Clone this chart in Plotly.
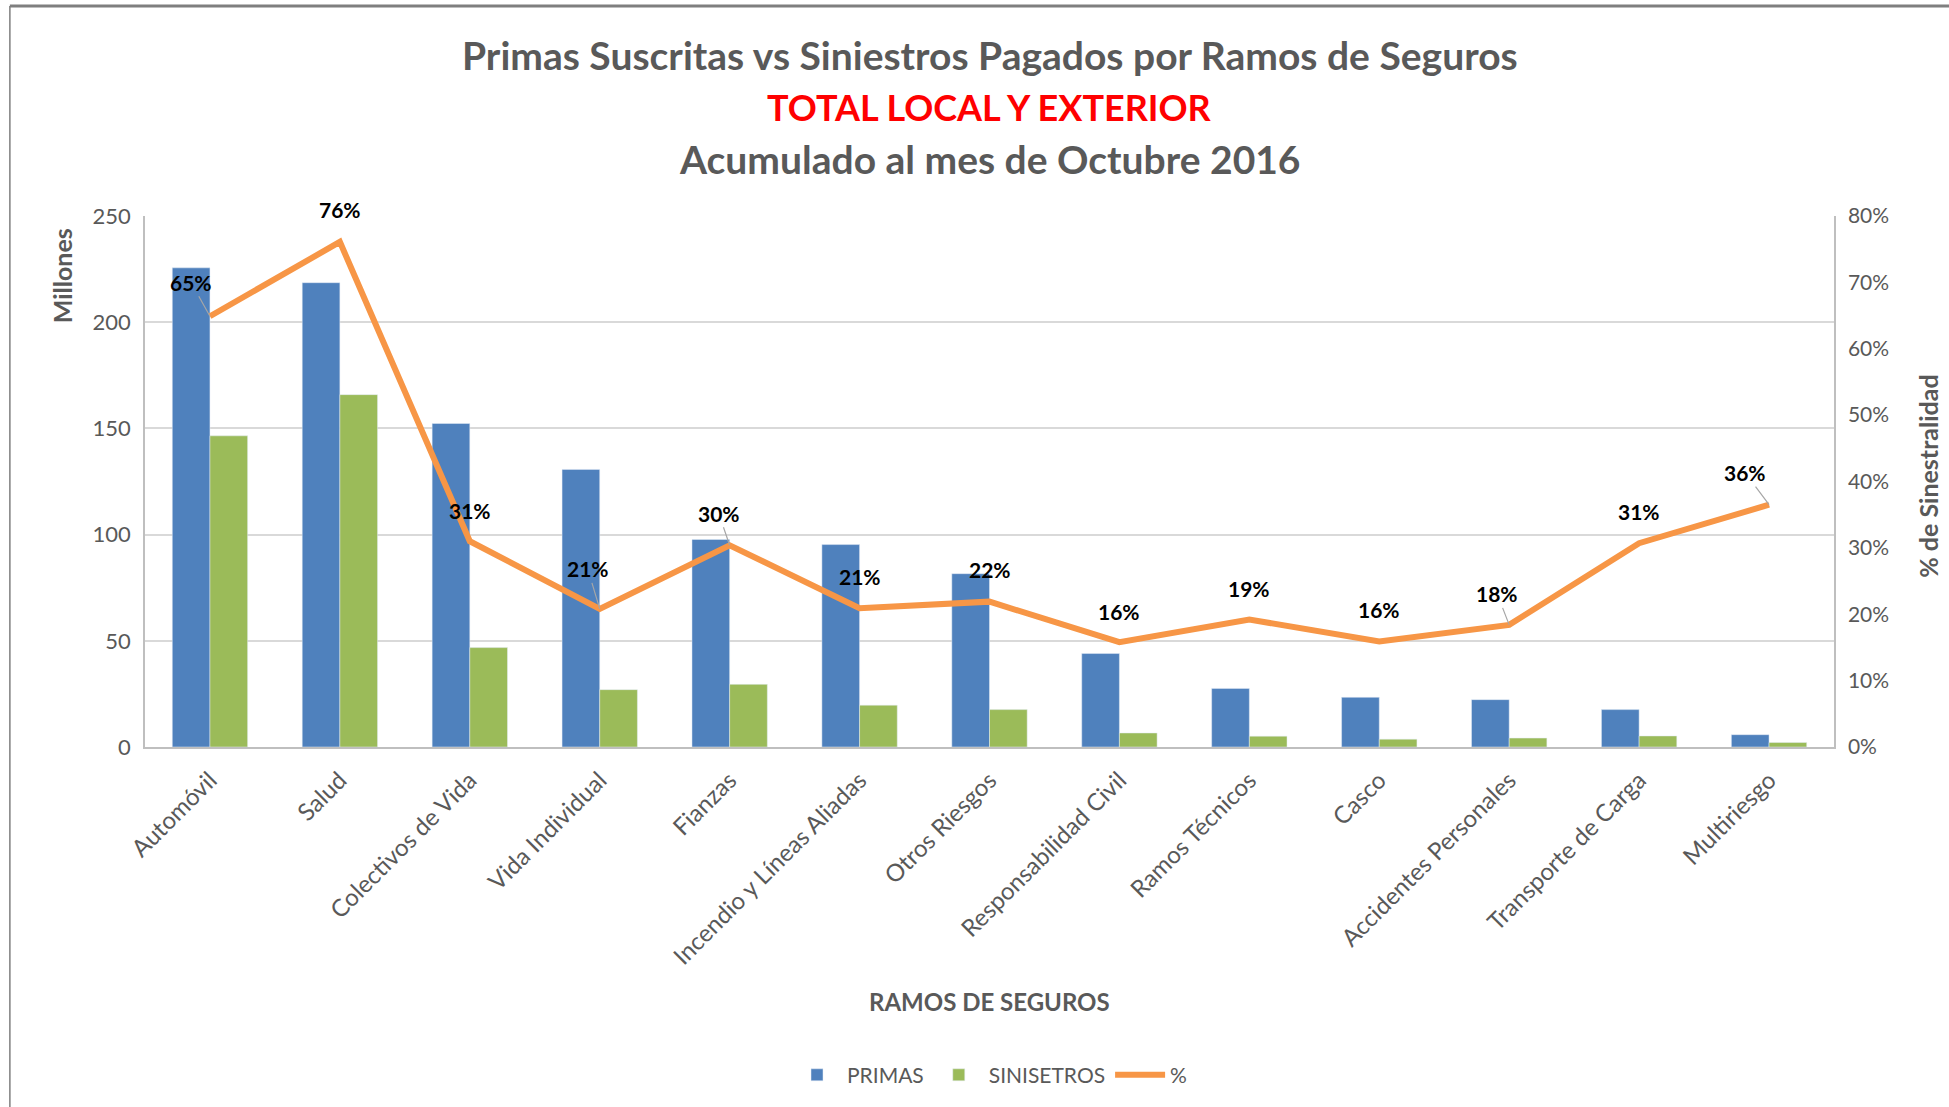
import plotly.graph_objects as go

categories = ["Automóvil", "Salud", "Colectivos de Vida", "Vida Individual", "Fianzas",
              "Incendio y Líneas Aliadas", "Otros Riesgos", "Responsabilidad Civil",
              "Ramos Técnicos", "Casco", "Accidentes Personales", "Transporte de Carga", "Multiriesgo"]
primas = [225.6, 218.6, 152.3, 130.7, 97.7, 95.3, 81.6, 44.0, 27.6, 23.4, 22.3, 17.6, 5.8]
siniestros = [146.5, 165.9, 46.8, 27.0, 29.5, 19.7, 17.6, 6.6, 5.1, 3.7, 4.2, 5.2, 2.1]
pct = [0.649, 0.761, 0.310, 0.208, 0.304, 0.209, 0.219, 0.158, 0.192, 0.159, 0.184, 0.307, 0.365]
# label offsets (px) and whether a leader line is shown
label_dx = [-19, 0, 0, -12, -11, 0, 0, 0, 0, 0, -12, 0, -24]
label_dy = [-34, -32, -31, -40, -32, -32, -32, -31, -31, -32, -31, -32, -32]
leader = [True, False, False, True, True, False, False, False, False, False, True, False, True]

FONT = "Lato"
GREY = "#595959"

fig = go.Figure()
fig.add_trace(go.Bar(x=categories, y=primas, name="PRIMAS", marker_color="#4F81BD"))
fig.add_trace(go.Bar(x=categories, y=siniestros, name="SINISETROS", marker_color="#9BBB59"))
fig.add_trace(go.Scatter(x=categories, y=pct, name="%", yaxis="y2", mode="lines",
                         line=dict(color="#F79646", width=6)))

ann = []
for c, v, dx, dy, ld in zip(categories, pct, label_dx, label_dy, leader):
    ann.append(dict(x=c, y=v, xref="x", yref="y2", text=f"<b>{round(v*100):d}%</b>",
                    showarrow=True, ax=dx, ay=dy, arrowhead=0, arrowwidth=1.2,
                    arrowcolor="#A6A6A6" if ld else "rgba(0,0,0,0)", standoff=0,
                    font=dict(family=FONT, size=21, color="black")))

titles = [("<b>Primas Suscritas vs Siniestros Pagados por Ramos de Seguros</b>", GREY, 39, 1.303),
          ("<b>TOTAL LOCAL Y EXTERIOR</b>", "#FF0000", 36, 1.205),
          ("<b>Acumulado al mes de Octubre 2016</b>", GREY, 39, 1.107)]
for t, col, sz, yy in titles:
    ann.append(dict(x=0.5, y=yy, xref="paper", yref="paper", text=t, showarrow=False,
                    xanchor="center", yanchor="middle", font=dict(family=FONT, size=sz, color=col)))

ann.append(dict(x=-0.049, y=0.887, xref="paper", yref="paper", text="<b>Millones</b>",
                showarrow=False, textangle=-90, xanchor="center", yanchor="middle",
                font=dict(family=FONT, size=25, color=GREY)))
ann.append(dict(x=1.056, y=0.51, xref="paper", yref="paper", text="<b>% de Sinestralidad</b>",
                showarrow=False, textangle=-90, xanchor="center", yanchor="middle",
                font=dict(family=FONT, size=25, color=GREY)))
ann.append(dict(x=0.5, y=-0.48, xref="paper", yref="paper", text="<b>RAMOS DE SEGUROS</b>",
                showarrow=False, xanchor="center", yanchor="middle",
                font=dict(family=FONT, size=24, color=GREY)))

fig.update_layout(
    width=1949, height=1107,
    margin=dict(l=145, r=115, t=216, b=360),
    paper_bgcolor="white", plot_bgcolor="white",
    barmode="group", bargap=0.42, bargroupgap=0,
    font=dict(family=FONT, color=GREY),
    showlegend=True,
    legend=dict(orientation="h", x=0.5, xanchor="center", y=-0.618, yanchor="middle",
                itemwidth=50, font=dict(family=FONT, size=21, color=GREY)),
    xaxis=dict(tickangle=-45, tickfont=dict(family=FONT, size=24, color=GREY),
               showline=True, linecolor="#BFBFBF", linewidth=1.5,
               ticks="outside", ticklen=8, tickcolor="rgba(0,0,0,0)"),
    yaxis=dict(range=[0, 250], dtick=50, showgrid=True, gridcolor="#D9D9D9", gridwidth=1.5,
               tickfont=dict(family=FONT, size=22, color=GREY), showline=True,
               linecolor="#BFBFBF", linewidth=1.5, zeroline=False, ticklen=8, ticks="outside",
               tickcolor="rgba(0,0,0,0)"),
    yaxis2=dict(range=[0, 0.8], dtick=0.1, tickformat=".0%", overlaying="y", side="right",
                showgrid=False, zeroline=False, showline=True, linecolor="#BFBFBF", linewidth=1.5,
                tickfont=dict(family=FONT, size=21, color=GREY), ticks="outside", ticklen=8,
                tickcolor="rgba(0,0,0,0)"),
    annotations=ann,
    shapes=[
        dict(type="line", xref="paper", yref="paper", x0=-0.080, x1=-0.080, y0=1.3955, y1=-0.70,
             line=dict(color="#7F7F7F", width=1.5)),
        dict(type="line", xref="paper", yref="paper", x0=-0.080, x1=1.10, y0=1.3955, y1=1.3955,
             line=dict(color="#7F7F7F", width=3)),
    ],
)

fig.write_html("out.html", config={"displayModeBar": False},
               post_script="document.body.style.margin='0';document.body.style.overflow='hidden';")
